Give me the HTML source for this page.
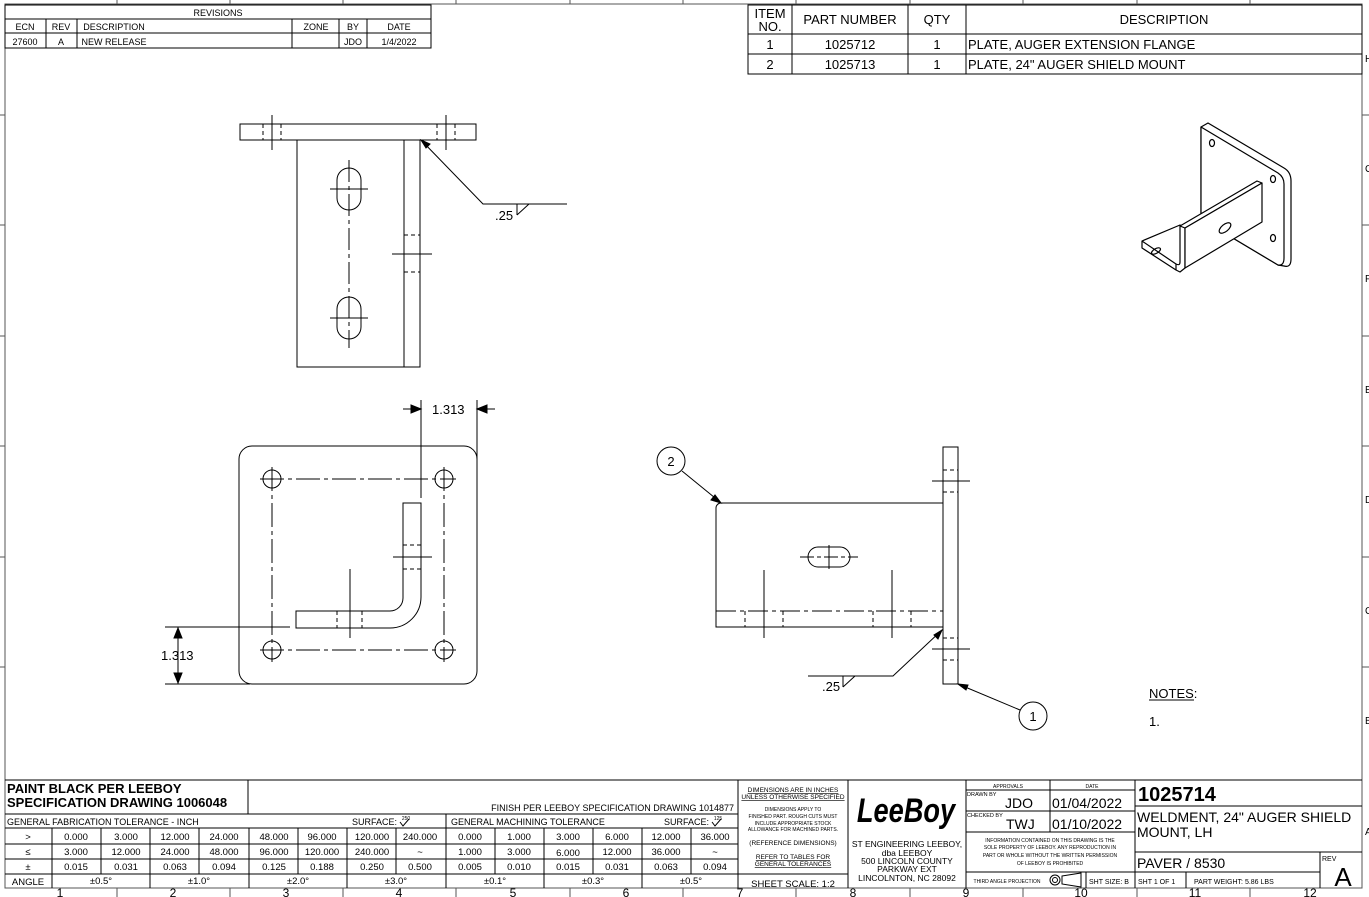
<!DOCTYPE html>
<html><head><meta charset="utf-8"><style>
html,body{margin:0;padding:0;background:#fff;}
svg{display:block;font-family:"Liberation Sans",sans-serif;}
</style></head><body>
<svg width="1369" height="897" viewBox="0 0 1369 897" xmlns="http://www.w3.org/2000/svg">
<rect width="1369" height="897" fill="#fff"/>
<g stroke="#000" fill="none" stroke-width="1">
<rect x="5" y="4" width="1357" height="884" stroke="#555"/>
<g stroke="#555">
<line x1="117" y1="0" x2="117" y2="4"/><line x1="230" y1="0" x2="230" y2="4"/><line x1="343" y1="0" x2="343" y2="4"/><line x1="456" y1="0" x2="456" y2="4"/><line x1="570" y1="0" x2="570" y2="4"/><line x1="683" y1="0" x2="683" y2="4"/><line x1="796" y1="0" x2="796" y2="4"/><line x1="910" y1="0" x2="910" y2="4"/><line x1="1023" y1="0" x2="1023" y2="4"/><line x1="1137" y1="0" x2="1137" y2="4"/><line x1="1250" y1="0" x2="1250" y2="4"/>
<line x1="117" y1="888" x2="117" y2="897"/><line x1="230" y1="888" x2="230" y2="897"/><line x1="343" y1="888" x2="343" y2="897"/><line x1="456" y1="888" x2="456" y2="897"/><line x1="570" y1="888" x2="570" y2="897"/><line x1="683" y1="888" x2="683" y2="897"/><line x1="796" y1="888" x2="796" y2="897"/><line x1="910" y1="888" x2="910" y2="897"/><line x1="1023" y1="888" x2="1023" y2="897"/><line x1="1137" y1="888" x2="1137" y2="897"/><line x1="1250" y1="888" x2="1250" y2="897"/>
<line x1="0" y1="115" x2="5" y2="115"/><line x1="0" y1="225" x2="5" y2="225"/><line x1="0" y1="336" x2="5" y2="336"/><line x1="0" y1="446" x2="5" y2="446"/><line x1="0" y1="557" x2="5" y2="557"/><line x1="0" y1="667" x2="5" y2="667"/>
<line x1="1362" y1="115" x2="1369" y2="115"/><line x1="1362" y1="225" x2="1369" y2="225"/><line x1="1362" y1="336" x2="1369" y2="336"/><line x1="1362" y1="446" x2="1369" y2="446"/><line x1="1362" y1="557" x2="1369" y2="557"/><line x1="1362" y1="667" x2="1369" y2="667"/>
</g>
<rect x="5" y="5" width="426" height="43"/>
<line x1="5" y1="19" x2="431" y2="19"/><line x1="5" y1="33" x2="431" y2="33"/>
<line x1="46" y1="19" x2="46" y2="48"/><line x1="77" y1="19" x2="77" y2="48"/><line x1="292" y1="19" x2="292" y2="48"/><line x1="339" y1="19" x2="339" y2="48"/><line x1="367" y1="19" x2="367" y2="48"/>
<rect x="748" y="5" width="614" height="69"/>
<line x1="748" y1="34" x2="1362" y2="34"/><line x1="748" y1="54" x2="1362" y2="54"/>
<line x1="792" y1="5" x2="792" y2="74"/><line x1="908" y1="5" x2="908" y2="74"/><line x1="966" y1="5" x2="966" y2="74"/>

<!-- TOP VIEW -->
<rect x="240" y="124" width="236" height="16"/>
<rect x="297" y="140" width="123" height="227"/>
<line x1="404" y1="140" x2="404" y2="367"/>
<g stroke-dasharray="4,3"><line x1="263" y1="124" x2="263" y2="140"/><line x1="281" y1="124" x2="281" y2="140"/><line x1="437" y1="124" x2="437" y2="140"/><line x1="455" y1="124" x2="455" y2="140"/>
<line x1="404" y1="235" x2="420" y2="235"/><line x1="404" y1="272" x2="420" y2="272"/></g>
<line x1="272" y1="115" x2="272" y2="150"/><line x1="446" y1="115" x2="446" y2="150"/>
<line x1="392" y1="254" x2="432" y2="254"/>
<rect x="337" y="168" width="24" height="42" rx="12"/>
<rect x="337" y="297" width="24" height="42" rx="12"/>
<line x1="349" y1="160" x2="349" y2="348" stroke-dasharray="22,4,4,4"/>
<line x1="330" y1="189" x2="368" y2="189"/><line x1="330" y1="318" x2="368" y2="318"/>
<polyline points="421,140 483,204 567,204"/>
<polyline points="517,215 529,204 517,204 517,215"/>
<polygon points="421,140 430,144 426,148" fill="#000"/>

<!-- FRONT VIEW -->
<rect x="239" y="446" width="238" height="238" rx="13"/>
<circle cx="272" cy="479" r="9"/><circle cx="444" cy="479" r="9"/><circle cx="272" cy="650" r="9"/><circle cx="444" cy="650" r="9"/>
<g stroke-dasharray="24,4,4,4"><line x1="260" y1="479" x2="456" y2="479"/><line x1="260" y1="650" x2="456" y2="650"/><line x1="272" y1="467" x2="272" y2="662"/><line x1="444" y1="467" x2="444" y2="662"/></g>
<path d="M403,503 H421 V597 A31,31 0 0 1 390,628 H296 V611 H390 A13,13 0 0 0 403,598 Z"/>
<g stroke-dasharray="4,3"><line x1="403" y1="545" x2="421" y2="545"/><line x1="403" y1="569" x2="421" y2="569"/><line x1="337" y1="611" x2="337" y2="628"/><line x1="362" y1="611" x2="362" y2="628"/></g>
<line x1="393" y1="557" x2="432" y2="557"/><line x1="350" y1="569" x2="350" y2="638"/>
<line x1="421" y1="400" x2="421" y2="498"/><line x1="477" y1="400" x2="477" y2="460"/>
<line x1="403" y1="409" x2="421" y2="409"/><line x1="477" y1="409" x2="495" y2="409"/>
<polygon points="421,409 411,405 411,413" fill="#000"/><polygon points="477,409 487,405 487,413" fill="#000"/>
<line x1="165" y1="627" x2="290" y2="627"/><line x1="165" y1="684" x2="250" y2="684"/>
<line x1="178" y1="627" x2="178" y2="684"/>
<polygon points="178,628 174,638 182,638" fill="#000"/><polygon points="178,683 174,673 182,673" fill="#000"/>

<!-- SIDE VIEW -->
<rect x="943" y="447" width="15" height="237"/>
<path d="M943,627 H716 V508 A5,5 0 0 1 721,503 H943"/>
<line x1="716" y1="611" x2="943" y2="611" stroke-dasharray="20,4,4,4"/>
<g stroke-dasharray="4,3"><line x1="943" y1="470" x2="958" y2="470"/><line x1="943" y1="492" x2="958" y2="492"/><line x1="943" y1="638" x2="958" y2="638"/><line x1="943" y1="660" x2="958" y2="660"/>
<line x1="745" y1="611" x2="745" y2="627"/><line x1="783" y1="611" x2="783" y2="627"/><line x1="873" y1="611" x2="873" y2="627"/><line x1="911" y1="611" x2="911" y2="627"/></g>
<line x1="932" y1="481" x2="970" y2="481"/><line x1="932" y1="649" x2="970" y2="649"/>
<line x1="764" y1="570" x2="764" y2="638"/><line x1="892" y1="570" x2="892" y2="638"/>
<rect x="808" y="547" width="42" height="20" rx="10"/>
<line x1="800" y1="557" x2="858" y2="557" stroke-dasharray="14,3,4,3"/><line x1="829" y1="545" x2="829" y2="569"/>
<circle cx="671" cy="461" r="14"/><line x1="682" y1="471" x2="720" y2="502"/><polygon points="721,503 711,500 715,495" fill="#000"/>
<circle cx="1033" cy="716" r="14"/><line x1="1020" y1="710" x2="958" y2="684"/><polygon points="958,684 968,685 966,690" fill="#000"/>
<polyline points="942,630 893,676 808,676"/><polyline points="843,687 855,676 843,676 843,687"/>
<polygon points="942,630 938,639 934,635" fill="#000"/>
<line x1="1149" y1="700" x2="1194" y2="700"/>

<!-- ISO VIEW -->
<g stroke-width="1.2" stroke-linejoin="round">
<path d="M1201,127 L1208,123 L1284,168 Q1291,172 1291,181 L1291,259 Q1291,268 1284,266 L1278,265 L1201,219 Z" fill="#fff"/>
<path d="M1201,127 L1278,173 Q1284,177 1284,184 L1284,258 Q1284,266 1278,265 L1201,219 Z" fill="#fff"/>
<ellipse cx="1212" cy="143" rx="2.5" ry="3.5"/><ellipse cx="1273" cy="179" rx="2.5" ry="3.5"/><ellipse cx="1273" cy="238" rx="2.5" ry="3.5"/>
<!-- foot -->
<path d="M1142,241 L1180,225 L1185,228 L1185,268 L1180,272 L1176,270 L1142,248 Z" fill="#fff"/>
<path d="M1142,241 L1176,264 L1176,270"/>
<path d="M1176,264 Q1180,266 1180,262 L1180,226"/>
<ellipse cx="1156" cy="251" rx="5" ry="2.3" transform="rotate(-30 1156 251)"/>
<!-- flange -->
<path d="M1180,226 L1257,181 L1262,183 L1185,228 Z" fill="#fff"/>
<path d="M1185,228 L1262,183 L1262,222 L1185,268 Z" fill="#fff"/>
<ellipse cx="1225" cy="228" rx="7" ry="3.5" transform="rotate(-40 1225 228)"/>
</g>

<!-- TITLE BLOCK -->
<line x1="5" y1="780" x2="1362" y2="780"/>
<line x1="248" y1="780" x2="248" y2="814"/>
<line x1="5" y1="814" x2="738" y2="814"/>
<line x1="5" y1="828" x2="738" y2="828"/>
<line x1="5" y1="844" x2="738" y2="844"/><line x1="5" y1="859" x2="738" y2="859"/><line x1="5" y1="874" x2="738" y2="874"/>
<line x1="446" y1="814" x2="446" y2="888"/>
<line x1="52" y1="828" x2="52" y2="888"/><line x1="101" y1="828" x2="101" y2="874"/><line x1="150" y1="828" x2="150" y2="888"/><line x1="199" y1="828" x2="199" y2="874"/><line x1="249" y1="828" x2="249" y2="888"/><line x1="298" y1="828" x2="298" y2="874"/><line x1="347" y1="828" x2="347" y2="888"/><line x1="396" y1="828" x2="396" y2="874"/><line x1="495" y1="828" x2="495" y2="874"/><line x1="544" y1="828" x2="544" y2="888"/><line x1="593" y1="828" x2="593" y2="874"/><line x1="642" y1="828" x2="642" y2="888"/><line x1="691" y1="828" x2="691" y2="874"/>
<line x1="738" y1="780" x2="738" y2="888"/><line x1="848" y1="780" x2="848" y2="888"/>
<line x1="738" y1="874" x2="848" y2="874"/>
<line x1="966" y1="780" x2="966" y2="888"/><line x1="1135" y1="780" x2="1135" y2="888"/>
<line x1="966" y1="790" x2="1135" y2="790"/><line x1="966" y1="811" x2="1135" y2="811"/><line x1="966" y1="832" x2="1135" y2="832"/><line x1="966" y1="872" x2="1135" y2="872"/>
<line x1="1050" y1="780" x2="1050" y2="832"/><line x1="1086" y1="872" x2="1086" y2="888"/>
<line x1="1135" y1="806" x2="1362" y2="806"/><line x1="1135" y1="852" x2="1362" y2="852"/><line x1="1135" y1="872" x2="1320" y2="872"/>
<line x1="1320" y1="852" x2="1320" y2="888"/><line x1="1186" y1="872" x2="1186" y2="888"/>
<circle cx="1055" cy="880" r="5"/><circle cx="1055" cy="880" r="2.5"/><path d="M1062,876 L1081,873 L1081,887 L1062,884 Z"/>
<path d="M400,822 l3,4 l6,-7"/><path d="M712,822 l3,4 l6,-7"/>
</g>

<g fill="#000" font-size="9" text-anchor="middle">
<text x="218" y="16">REVISIONS</text>
<text x="25" y="30">ECN</text><text x="61" y="30">REV</text><text x="114" y="30">DESCRIPTION</text><text x="316" y="30">ZONE</text><text x="353" y="30">BY</text><text x="399" y="30">DATE</text>
<text x="25" y="45">27600</text><text x="61" y="45">A</text><text x="114" y="45">NEW RELEASE</text><text x="353" y="45">JDO</text><text x="399" y="45">1/4/2022</text>
</g>
<g fill="#000" font-size="13" text-anchor="middle">
<text x="770" y="18">ITEM</text><text x="770" y="31">NO.</text>
<text x="850" y="24">PART NUMBER</text><text x="937" y="24">QTY</text><text x="1164" y="24">DESCRIPTION</text>
<text x="770" y="49">1</text><text x="850" y="49">1025712</text><text x="937" y="49">1</text>
<text x="770" y="69">2</text><text x="850" y="69">1025713</text><text x="937" y="69">1</text>
</g>
<g fill="#000" font-size="13"><text x="968" y="49">PLATE, AUGER EXTENSION FLANGE</text><text x="968" y="69">PLATE, 24" AUGER SHIELD MOUNT</text></g>
<g fill="#000" font-size="13">
<text x="495" y="220">.25</text>
<text x="432" y="414">1.313</text>
<text x="161" y="660">1.313</text>
<text x="822" y="691">.25</text>
<text x="1149" y="698">NOTES:</text>
<text x="1149" y="726">1.</text>
</g>
<g fill="#000" font-size="13" text-anchor="middle"><text x="671" y="466">2</text><text x="1033" y="721">1</text></g>
<g fill="#000" font-size="12" text-anchor="middle">
<text x="60" y="897">1</text><text x="173" y="897">2</text><text x="286" y="897">3</text><text x="399" y="897">4</text><text x="513" y="897">5</text><text x="626" y="897">6</text><text x="740" y="897">7</text><text x="853" y="897">8</text><text x="966" y="897">9</text><text x="1081" y="897">10</text><text x="1195" y="897">11</text><text x="1310" y="897">12</text>
</g>
<g fill="#000" font-size="10">
<text x="1365" y="62">H</text><text x="1365" y="172">G</text><text x="1365" y="282">F</text><text x="1365" y="393">E</text><text x="1365" y="503">D</text><text x="1365" y="614">C</text><text x="1365" y="724">B</text><text x="1365" y="835">A</text>
</g>
<g fill="#000" font-weight="bold" font-size="13"><text x="7" y="793">PAINT BLACK PER LEEBOY</text><text x="7" y="807">SPECIFICATION DRAWING 1006048</text></g>
<g fill="#000" font-size="9">
<text x="734" y="811" text-anchor="end">FINISH PER LEEBOY SPECIFICATION DRAWING 1014877</text>
<text x="7" y="825">GENERAL FABRICATION TOLERANCE - INCH</text><text x="352" y="825">SURFACE:</text>
<text x="451" y="825">GENERAL MACHINING TOLERANCE</text><text x="664" y="825">SURFACE:</text>
</g>
<g fill="#000" font-size="9.5" text-anchor="middle">
<text x="28" y="840">&gt;</text><text x="76" y="840">0.000</text><text x="126" y="840">3.000</text><text x="175" y="840">12.000</text><text x="224" y="840">24.000</text><text x="274" y="840">48.000</text><text x="322" y="840">96.000</text><text x="372" y="840">120.000</text><text x="420" y="840">240.000</text><text x="470" y="840">0.000</text><text x="519" y="840">1.000</text><text x="568" y="840">3.000</text><text x="617" y="840">6.000</text><text x="666" y="840">12.000</text><text x="715" y="840">36.000</text>
<text x="28" y="855">≤</text><text x="76" y="855">3.000</text><text x="126" y="855">12.000</text><text x="175" y="855">24.000</text><text x="224" y="855">48.000</text><text x="274" y="855">96.000</text><text x="322" y="855">120.000</text><text x="372" y="855">240.000</text><text x="420" y="855">~</text><text x="470" y="855">1.000</text><text x="519" y="855">3.000</text><text x="568" y="856">6.000</text><text x="617" y="855">12.000</text><text x="666" y="855">36.000</text><text x="715" y="855">~</text>
<text x="28" y="870">±</text><text x="76" y="870">0.015</text><text x="126" y="870">0.031</text><text x="175" y="870">0.063</text><text x="224" y="870">0.094</text><text x="274" y="870">0.125</text><text x="322" y="870">0.188</text><text x="372" y="870">0.250</text><text x="420" y="870">0.500</text><text x="470" y="870">0.005</text><text x="519" y="870">0.010</text><text x="568" y="870">0.015</text><text x="617" y="870">0.031</text><text x="666" y="870">0.063</text><text x="715" y="870">0.094</text>
<text x="28" y="885">ANGLE</text><text x="101" y="884">±0.5°</text><text x="199" y="884">±1.0°</text><text x="298" y="884">±2.0°</text><text x="396" y="884">±3.0°</text><text x="495" y="884">±0.1°</text><text x="593" y="884">±0.3°</text><text x="691" y="884">±0.5°</text>
</g>
<g fill="#000" font-size="5" text-anchor="middle">
<text x="406" y="820">250</text><text x="718" y="820">125</text>
<text x="793" y="792" font-size="6.5" text-decoration="underline">DIMENSIONS ARE IN INCHES</text>
<text x="793" y="799" font-size="6.5" text-decoration="underline">UNLESS OTHERWISE SPECIFIED</text>
<text x="793" y="811">DIMENSIONS APPLY TO</text><text x="793" y="818">FINISHED PART. ROUGH CUTS MUST</text><text x="793" y="825">INCLUDE APPROPRIATE STOCK</text><text x="793" y="831">ALLOWANCE FOR MACHINED PARTS.</text>
<text x="793" y="845" font-size="6.5">(REFERENCE DIMENSIONS)</text>
<text x="793" y="859" font-size="6.5" text-decoration="underline">REFER TO TABLES FOR</text><text x="793" y="866" font-size="6.5" text-decoration="underline">GENERAL TOLERANCES</text>
<text x="793" y="887" font-size="9.5">SHEET SCALE: 1:2</text>
<text x="1008" y="788">APPROVALS</text><text x="1092" y="788">DATE</text>
<text x="1050" y="842">INFORMATION CONTAINED ON THIS DRAWING IS THE</text><text x="1050" y="849">SOLE PROPERTY OF LEEBOY. ANY REPRODUCTION IN</text><text x="1050" y="857">PART OR WHOLE WITHOUT THE WRITTEN PERMISSION</text><text x="1050" y="865">OF LEEBOY IS PROHIBITED</text>
<text x="1007" y="883">THIRD ANGLE PROJECTION</text>
</g>
<g fill="#000" font-size="5.5"><text x="967" y="796">DRAWN BY</text><text x="967" y="817">CHECKED BY</text></g>
<text x="906" y="822" font-size="34" font-weight="bold" font-style="italic" text-anchor="middle" fill="#000" transform="translate(906 0) scale(0.8 1) translate(-906 0)">LeeBoy</text>
<g fill="#000" font-size="8.5" text-anchor="middle">
<text x="907" y="847">ST ENGINEERING LEEBOY,</text><text x="907" y="856">dba LEEBOY</text><text x="907" y="864">500 LINCOLN COUNTY</text><text x="907" y="872">PARKWAY EXT</text><text x="907" y="881">LINCOLNTON, NC  28092</text>
</g>
<g fill="#000" font-size="14"><text x="1005" y="808">JDO</text><text x="1006" y="829">TWJ</text><text x="1052" y="808">01/04/2022</text><text x="1052" y="829">01/10/2022</text></g>
<text x="1138" y="801" font-size="20" font-weight="bold" fill="#000">1025714</text>
<g fill="#000" font-size="14"><text x="1137" y="822">WELDMENT, 24" AUGER SHIELD</text><text x="1137" y="837">MOUNT, LH</text><text x="1137" y="868">PAVER / 8530</text></g>
<g fill="#000" font-size="7"><text x="1089" y="884">SHT SIZE: B</text><text x="1138" y="884">SHT 1 OF 1</text><text x="1194" y="884">PART WEIGHT: 5.86 LBS</text><text x="1322" y="861">REV</text></g>
<text x="1343" y="886" font-size="26" text-anchor="middle" fill="#000">A</text>
</svg>
</body></html>
